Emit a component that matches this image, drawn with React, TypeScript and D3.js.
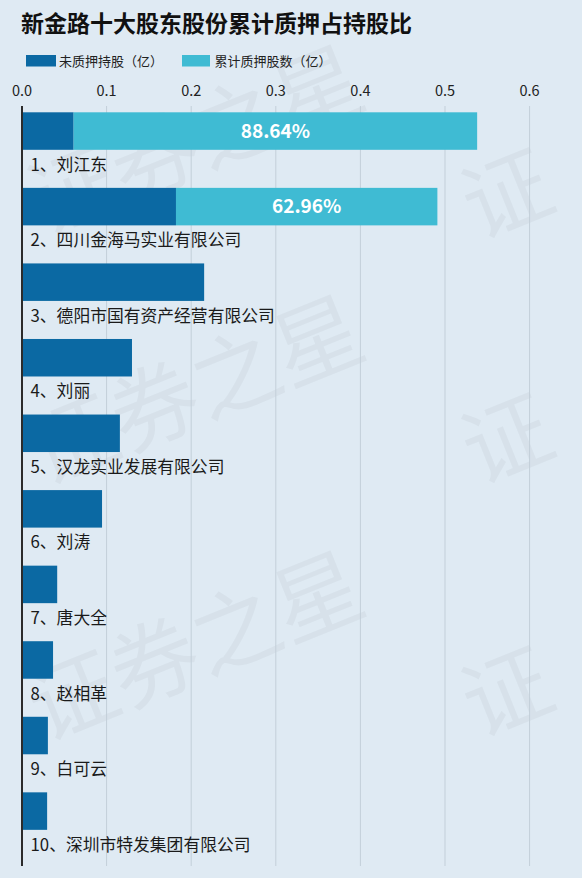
import React from "react";
import * as d3 from "d3";

const title = "新金路十大股东股份累计质押占持股比";
const legendLabels = ["未质押持股（亿）", "累计质押股数（亿）"];
const categories = [
  "1、刘江东",
  "2、四川金海马实业有限公司",
  "3、德阳市国有资产经营有限公司",
  "4、刘丽",
  "5、汉龙实业发展有限公司",
  "6、刘涛",
  "7、唐大全",
  "8、赵相革",
  "9、白可云",
  "10、深圳市特发集团有限公司",
];
const unpledged = [0.061, 0.182, 0.2153, 0.13, 0.1157, 0.0946, 0.0416, 0.0367, 0.0306, 0.0297];
const pledged = [0.477, 0.309, 0, 0, 0, 0, 0, 0, 0, 0];
const ratioLabels = ["88.64%", "62.96%", "", "", "", "", "", "", "", ""];
const ticks = [0, 0.1, 0.2, 0.3, 0.4, 0.5, 0.6];
const watermarkText = "证券之星";

const W = 582;
const H = 878;
const DARK = "#0b69a3";
const LIGHT = "#3fbbd3";
const BG = "#dfeaf3";
const FONT = "'Noto Sans CJK SC', 'Noto Sans', sans-serif";

export default function App() {
  const x = d3.scaleLinear().domain([0, 0.6]).range([22, 22 + 0.6 * 846]);
  const y = d3
    .scaleBand<string>()
    .domain(categories)
    .range([112.3, 112.3 + 75.56 * categories.length])
    .padding(0);
  const barH = 37.5;
  const axisTop = 106;
  const axisBottom = 866;

  const watermarks = [
    { x: 44, y: 236, t: watermarkText },
    { x: 44, y: 486, t: watermarkText },
    { x: 44, y: 742, t: watermarkText },
    { x: 478, y: 240, t: watermarkText[0] },
    { x: 478, y: 485, t: watermarkText[0] },
    { x: 478, y: 738, t: watermarkText[0] },
  ];

  return (
    <svg
      width={W}
      height={H}
      style={{ position: "absolute", left: 0, top: 0, display: "block" }}
      fontFamily={FONT}
    >
      <rect x={0} y={0} width={W} height={H} fill={BG} />
      <g fill="#000" fillOpacity={0.035} fontSize={88} fontWeight={400}>
        {watermarks.map((w, i) => (
          <text key={i} x={w.x} y={w.y} transform={`rotate(-22 ${w.x} ${w.y})`}>
            {w.t}
          </text>
        ))}
      </g>
      <text x={21} y={32} fontSize={23} fontWeight={700} fill="#111">
        {title}
      </text>
      <g>
        <rect x={26} y={55} width={30} height={11.5} fill={DARK} />
        <text x={59} y={61} dy="0.35em" fontSize={13} fill="#222">
          {legendLabels[0]}
        </text>
        <rect x={182} y={55} width={28} height={11.5} fill={LIGHT} />
        <text x={214.5} y={61} dy="0.35em" fontSize={13} fill="#222">
          {legendLabels[1]}
        </text>
      </g>
      <g>
        {ticks.map((t) => (
          <g key={t}>
            {t > 0 && (
              <line
                x1={x(t)}
                x2={x(t)}
                y1={axisTop}
                y2={axisBottom}
                stroke="#c3cfd9"
                strokeWidth={1}
              />
            )}
            <text
              x={x(t)}
              y={91}
              dy="0.35em"
              textAnchor="middle"
              fontSize={14.5}
              fill="#222"
            >
              {d3.format(".1f")(t)}
            </text>
          </g>
        ))}
      </g>
      <g>
        {categories.map((c, i) => {
          const y0 = y(c) as number;
          const x0 = x(0);
          const x1 = x(unpledged[i]);
          const x2 = x(unpledged[i] + pledged[i]);
          return (
            <g key={c}>
              <rect x={x0} y={y0} width={x1 - x0} height={barH} fill={DARK} />
              {pledged[i] > 0 && (
                <rect x={x1} y={y0} width={x2 - x1} height={barH} fill={LIGHT} />
              )}
              {ratioLabels[i] && (
                <text
                  x={(x1 + x2) / 2}
                  y={y0 + barH / 2}
                  dy="0.36em"
                  textAnchor="middle"
                  fontSize={19}
                  fontWeight={700}
                  fill="#fff"
                >
                  {ratioLabels[i]}
                </text>
              )}
              <text
                x={30.5}
                y={y0 + barH + 15}
                dy="0.35em"
                fontSize={16.8}
                fill="#1a1a1a"
              >
                {c}
              </text>
            </g>
          );
        })}
      </g>
      <line
        x1={x(0)}
        x2={x(0)}
        y1={axisTop}
        y2={axisBottom}
        stroke="#2b2b2b"
        strokeWidth={2}
      />
    </svg>
  );
}
